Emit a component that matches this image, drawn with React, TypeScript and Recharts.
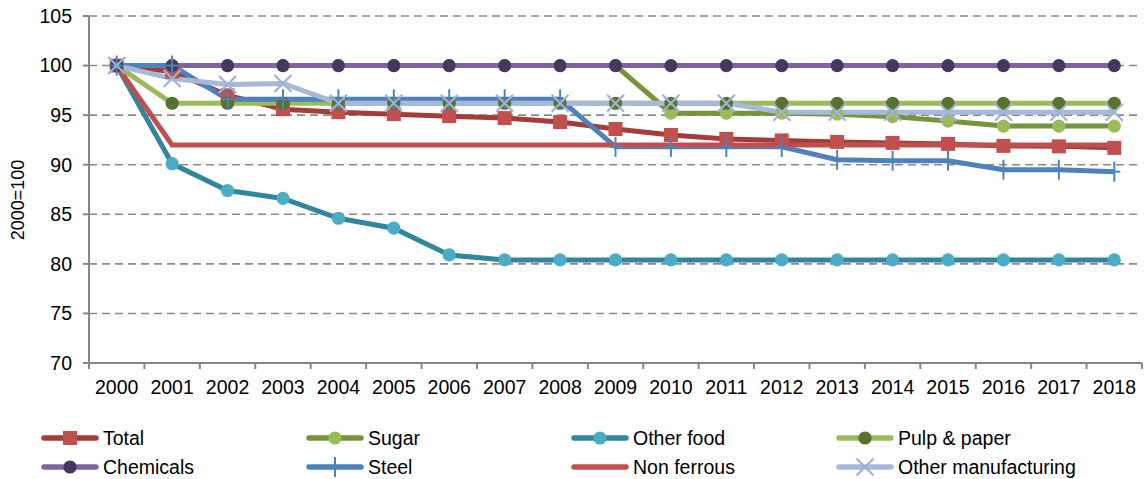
import React from 'react';
import { LineChart, Line, XAxis, YAxis, CartesianGrid, Legend } from 'recharts';

const years = ['2000','2001','2002','2003','2004','2005','2006','2007','2008','2009','2010','2011','2012','2013','2014','2015','2016','2017','2018'];
const total = [100, 99.4, 97.0, 95.6, 95.3, 95.1, 94.9, 94.7, 94.3, 93.6, 93.0, 92.6, 92.45, 92.3, 92.2, 92.1, 91.9, 91.85, 91.7];
const sugar = [100, 100, 100, 100, 100, 100, 100, 100, 100, 100, 95.2, 95.2, 95.2, 95.1, 94.85, 94.4, 93.9, 93.9, 93.9];
const otherFood = [100, 90.1, 87.4, 86.6, 84.6, 83.6, 80.9, 80.4, 80.4, 80.4, 80.4, 80.4, 80.4, 80.4, 80.4, 80.4, 80.4, 80.4, 80.4];
const pulp = [100, 96.2, 96.2, 96.2, 96.2, 96.2, 96.2, 96.2, 96.2, 96.2, 96.2, 96.2, 96.2, 96.2, 96.2, 96.2, 96.2, 96.2, 96.2];
const chemicals = [100, 100, 100, 100, 100, 100, 100, 100, 100, 100, 100, 100, 100, 100, 100, 100, 100, 100, 100];
const steel = [100, 100, 96.6, 96.6, 96.6, 96.6, 96.6, 96.6, 96.6, 91.8, 91.8, 91.8, 91.8, 90.5, 90.4, 90.4, 89.5, 89.5, 89.3];
const nonFerrous = [100, 92.0, 92.0, 92.0, 92.0, 92.0, 92.0, 92.0, 92.0, 92.0, 92.0, 92.0, 92.0, 92.0, 92.0, 92.0, 92.0, 92.0, 92.0];
const otherManuf = [100, 98.7, 98.1, 98.2, 96.2, 96.2, 96.2, 96.2, 96.2, 96.2, 96.2, 96.2, 95.3, 95.3, 95.3, 95.3, 95.3, 95.3, 95.3];
const yTicks = [70, 75, 80, 85, 90, 95, 100, 105];

const data = years.map((y, i) => ({
  year: y,
  total: total[i],
  sugar: sugar[i],
  otherFood: otherFood[i],
  pulp: pulp[i],
  chemicals: chemicals[i],
  steel: steel[i],
  nonFerrous: nonFerrous[i],
  otherManuf: otherManuf[i],
}));

type Marker = 'square' | 'circle' | 'plus' | 'x' | 'none';
const series: { key: string; name: string; line: string; mark: string; marker: Marker }[] = [
  { key: 'total', name: 'Total', line: '#A33D3B', mark: '#C0504D', marker: 'square' },
  { key: 'sugar', name: 'Sugar', line: '#77933C', mark: '#9BBB59', marker: 'circle' },
  { key: 'otherFood', name: 'Other food', line: '#31859C', mark: '#4BACC6', marker: 'circle' },
  { key: 'pulp', name: 'Pulp & paper', line: '#9BBB59', mark: '#5A7230', marker: 'circle' },
  { key: 'chemicals', name: 'Chemicals', line: '#8064A2', mark: '#463760', marker: 'circle' },
  { key: 'steel', name: 'Steel', line: '#4F81BD', mark: '#4F81BD', marker: 'plus' },
  { key: 'nonFerrous', name: 'Non ferrous', line: '#C0504D', mark: '#C0504D', marker: 'none' },
  { key: 'otherManuf', name: 'Other manufacturing', line: '#A6B9D9', mark: '#9DB2D6', marker: 'x' },
];

const FONT = '"Liberation Sans", Arial, sans-serif';
const W = 1144;
const H = 479;
const PLOT_LEFT = 89;
const PLOT_RIGHT = 2;
const BAND = (W - PLOT_LEFT - PLOT_RIGHT) / years.length;

function drawMarker(marker: Marker, color: string, cx: number, cy: number, key?: string) {
  if (marker === 'square') return <rect key={key} x={cx - 7} y={cy - 7} width={14} height={14} fill={color} />;
  if (marker === 'circle') return <circle key={key} cx={cx} cy={cy} r={6.6} fill={color} />;
  if (marker === 'plus')
    return (
      <g key={key}>
        <line x1={cx} x2={cx} y1={cy - 10} y2={cy + 10} stroke={color} strokeWidth={2} />
        <line x1={cx - 6} x2={cx + 6} y1={cy} y2={cy} stroke={color} strokeWidth={2} />
      </g>
    );
  if (marker === 'x')
    return (
      <g key={key}>
        <line x1={cx - 8.5} x2={cx + 8.5} y1={cy - 8.5} y2={cy + 8.5} stroke={color} strokeWidth={2.2} />
        <line x1={cx - 8.5} x2={cx + 8.5} y1={cy + 8.5} y2={cy - 8.5} stroke={color} strokeWidth={2.2} />
      </g>
    );
  return <g key={key} />;
}

const XTick = (props: any) => {
  const { x, y, payload, index } = props;
  const half = BAND / 2;
  return (
    <g>
      <line x1={x - half} x2={x - half} y1={y} y2={y + 6} stroke="#868686" strokeWidth={2} />
      {index === years.length - 1 && (
        <line x1={x + half} x2={x + half} y1={y} y2={y + 6} stroke="#868686" strokeWidth={2} />
      )}
      <text x={x} y={y + 31} textAnchor="middle" fontSize={19.5} fontFamily={FONT} fill="#000">
        {payload.value}
      </text>
    </g>
  );
};

const legendCols = [42, 307, 572, 837];
const legendRows = [18, 47];

const renderLegend = () => (
  <svg width={W} height={60} style={{ display: 'block' }}>
    {series.map((s, i) => {
      const x = legendCols[i % 4];
      const y = legendRows[Math.floor(i / 4)];
      return (
        <g key={s.key}>
          <line x1={x + 2} x2={x + 54} y1={y} y2={y} stroke={s.line} strokeWidth={5.5} strokeLinecap="round" />
          {drawMarker(s.marker, s.mark, x + 28, y)}
          <text x={x + 61} y={y} dy="0.36em" fontSize={19.5} fontFamily={FONT} fill="#000">
            {s.name}
          </text>
        </g>
      );
    })}
  </svg>
);

export default function App() {
  return (
    <div style={{ position: 'absolute', left: 0, top: 0, width: W, height: H, background: '#fff' }}>
      <LineChart width={W} height={H} data={data} margin={{ top: 16, right: PLOT_RIGHT, left: 0, bottom: 76 }}>
        <CartesianGrid vertical={false} stroke="#8a8a8a" strokeWidth={1.6} strokeDasharray="8 5" />
        <XAxis
          dataKey="year"
          height={40}
          tickLine={false}
          tickSize={0}
          tickMargin={0}
          padding={{ left: BAND / 2, right: BAND / 2 }}
          axisLine={{ stroke: '#868686', strokeWidth: 2 }}
          tick={<XTick />}
          interval={0}
        />
        <YAxis
          width={PLOT_LEFT}
          domain={[70, 105]}
          ticks={yTicks}
          interval={0}
          tickSize={6}
          tickMargin={11}
          axisLine={{ stroke: '#868686', strokeWidth: 2 }}
          tickLine={{ stroke: '#868686', strokeWidth: 2 }}
          tick={{ fontSize: 19.5, fontFamily: FONT, fill: '#000' }}
          label={{
            content: () => (
              <text transform="translate(24,200) rotate(-90)" textAnchor="middle" fontSize={18} fontFamily={FONT} fill="#000">
                2000=100
              </text>
            ),
          }}
        />
        <Legend
          layout="horizontal"
          verticalAlign="middle"
          align="center"
          content={renderLegend}
          wrapperStyle={{ position: 'absolute', left: 0, top: 420, width: W, height: 60 }}
        />
        {series.map((s) => (
          <Line
            key={s.key}
            dataKey={s.key}
            name={s.name}
            stroke={s.line}
            strokeWidth={5}
            isAnimationActive={false}
            activeDot={false}
            dot={(p: any) => drawMarker(s.marker, s.mark, p.cx, p.cy, `${s.key}-${p.index}`)}
          />
        ))}
      </LineChart>
    </div>
  );
}
